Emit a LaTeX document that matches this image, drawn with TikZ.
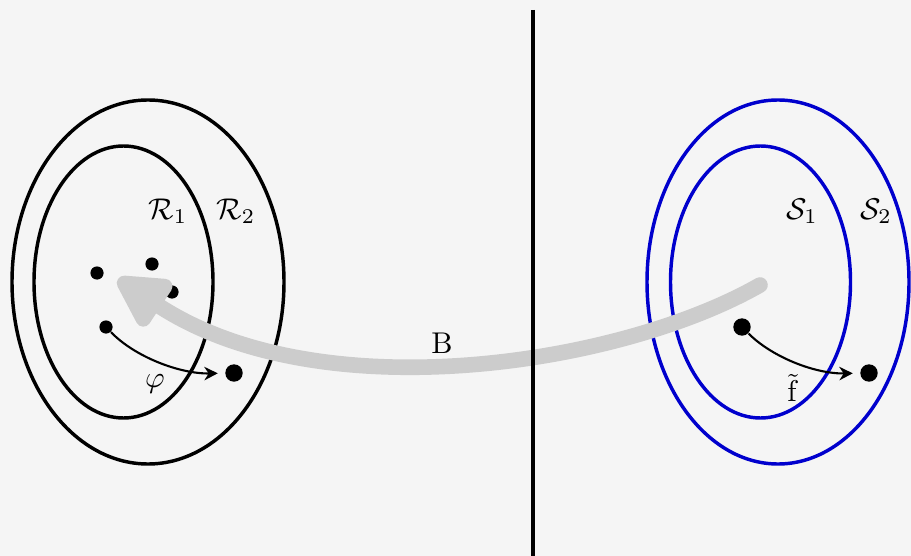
\documentclass[tikz,border=0pt]{standalone}
\usetikzlibrary{arrows.meta}
\definecolor{bg}{HTML}{F5F5F5}
\definecolor{setblue}{RGB}{0,0,205}
\definecolor{arrgrey}{HTML}{CCCCCC}
\tikzset{
  setline/.style={line width=1.15pt},
  sdot/.style={circle,fill=black,inner sep=0pt,minimum size=4.4pt},
  bdot/.style={circle,fill=black,inner sep=0pt,minimum size=5.8pt},
  maparrow/.style={line width=0.7pt,-{Stealth[length=4.5pt,width=4.5pt]},shorten >=2.3pt},
  bigarrow/.style={line width=5.2pt,arrgrey,line cap=round,-{Triangle[round,length=20pt,width=20pt]}},
  divider/.style={line width=1.4pt}
}
\begin{document}
\begin{tikzpicture}[x=0.3333pt,y=-0.3333pt]
\fill[bg] (0,0) rectangle (911,556);
\useasboundingbox (0,0) rectangle (911,556);
% left sets
\draw[setline] (148,282) ellipse [x radius=136, y radius=182];
\draw[setline] (123.5,282) ellipse [x radius=89.5, y radius=136];
\node (R1) at (168,211) {$\mathcal{R}_1$};
\node (R2) at (236,211) {$\mathcal{R}_2$};
\node[sdot] (a1) at (97,273) {};
\node[sdot] (a2) at (152,264) {};
\node[sdot] (a3) at (172,292) {};
\node[sdot] (a4) at (106,327) {};
\node[bdot] (b1) at (234,373) {};
\draw[maparrow] (a4) .. controls (135,357) and (180,374) .. (b1);
\node (phi) at (155,384) {$\varphi$};
% right sets
\draw[setline,setblue] (778,282) ellipse [x radius=131, y radius=182];
\draw[setline,setblue] (760.5,282) ellipse [x radius=90, y radius=136];
\node (S1) at (802,211) {$\mathcal{S}_1$};
\node (S2) at (876,211) {$\mathcal{S}_2$};
\node[bdot] (c1) at (742,327) {};
\node[bdot] (c2) at (869,373) {};
\draw[maparrow] (c1) .. controls (772,357) and (815,374) .. (c2);
\node (ft) at (793,388) {$\tilde{\mathrm{f}}$};
% big arrow
\coordinate (bs) at (760,285);
\coordinate (be) at (118,279);
\draw[bigarrow] (bs) .. controls (620,365) and (320,412) .. (be);
\node (B) at (442,343) {B};
% divider
\coordinate (dtop) at (533,10);
\coordinate (dbot) at (533,556);
\draw[divider] (dtop) -- (dbot);
\end{tikzpicture}
\end{document}
